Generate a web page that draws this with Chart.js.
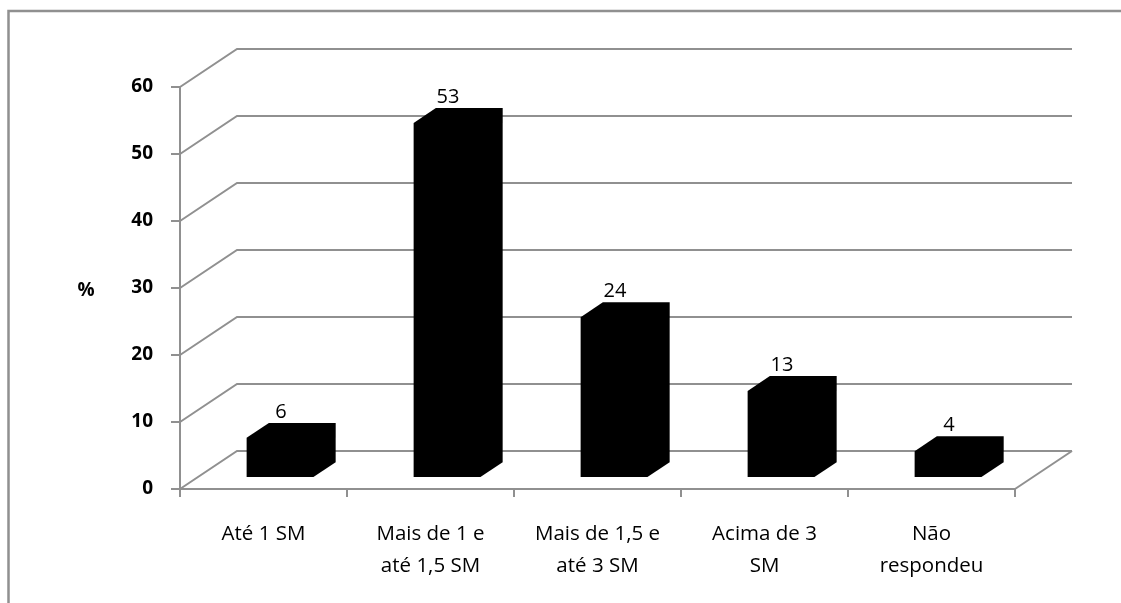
<!DOCTYPE html>
<html>
<head>
<meta charset="utf-8">
<script src="https://cdn.jsdelivr.net/npm/chart.js@4/dist/chart.umd.min.js"></script>
<style>
  html, body { margin: 0; padding: 0; background: #fff; }
  #wrap { position: relative; width: 1121px; height: 603px; }
</style>
</head>
<body>
<div id="wrap"><canvas id="c" width="1121" height="603"></canvas></div>
<script>
// Income bands (in minimum wages) and share of respondents, %
const categories = [
  ['Até 1 SM'],
  ['Mais de 1 e', 'até 1,5 SM'],
  ['Mais de 1,5 e', 'até 3 SM'],
  ['Acima de 3', 'SM'],
  ['Não', 'respondeu']
];
const percentages = [6, 53, 24, 13, 4];
const yTicks = [0, 10, 20, 30, 40, 50, 60];
const yUnit = '%';

// Pseudo-3D geometry: offset of the back wall from the front plane,
// and the depth fractions at which the columns' front and back faces sit.
const WALL_DX = 57, WALL_DY = -38;
const BAR_FRONT = 0.29, BAR_BACK = 0.68;
const LINE = '#909090';
const FONT = "'Open Sans', 'DejaVu Sans', sans-serif";

const depth3d = {
  id: 'depth3d',
  beforeDraw(chart) {
    const ctx = chart.ctx;
    ctx.save();
    ctx.strokeStyle = LINE;
    ctx.lineWidth = 2.5;
    ctx.beginPath();
    ctx.moveTo(8.5, 640);
    ctx.lineTo(8.5, 11);
    ctx.lineTo(1140, 11);
    ctx.stroke();
    ctx.restore();
  },
  beforeDatasetsDraw(chart) {
    const { ctx, chartArea: a, scales: { y } } = chart;
    ctx.save();
    ctx.strokeStyle = LINE;
    ctx.lineWidth = 2;
    // side wall diagonals and back wall gridlines
    yTicks.forEach(v => {
      const py = y.getPixelForValue(v);
      ctx.beginPath();
      ctx.moveTo(a.left, py);
      ctx.lineTo(a.left + WALL_DX, py + WALL_DY);
      ctx.lineTo(a.right + WALL_DX, py + WALL_DY);
      ctx.stroke();
    });
    // right edge of the floor
    ctx.beginPath();
    ctx.moveTo(a.right, a.bottom);
    ctx.lineTo(a.right + WALL_DX, a.bottom + WALL_DY);
    ctx.stroke();
    // axis unit
    ctx.fillStyle = '#000';
    ctx.font = 'bold 19px ' + FONT;
    ctx.textAlign = 'center';
    ctx.textBaseline = 'middle';
    ctx.fillText(yUnit, 86, y.getPixelForValue(30) + 3);
    ctx.restore();
  },
  afterDatasetsDraw(chart) {
    const ctx = chart.ctx;
    const meta = chart.getDatasetMeta(0);
    const fx = WALL_DX * BAR_FRONT, fy = WALL_DY * BAR_FRONT;
    const bx = WALL_DX * (BAR_BACK - BAR_FRONT), by = WALL_DY * (BAR_BACK - BAR_FRONT);
    ctx.save();
    meta.data.forEach((el, i) => {
      const hw = el.width / 2;
      const x0 = el.x - hw + fx, x1 = el.x + hw + fx;
      const yt = el.y + fy, yb = el.base + fy;
      ctx.fillStyle = '#000';
      ctx.beginPath();
      ctx.moveTo(x0, yb);
      ctx.lineTo(x0, yt);
      ctx.lineTo(x0 + bx, yt + by);
      ctx.lineTo(x1 + bx, yt + by);
      ctx.lineTo(x1 + bx, yb + by);
      ctx.lineTo(x1, yb);
      ctx.closePath();
      ctx.fill();
      // value label above the column top
      ctx.font = '20px ' + FONT;
      ctx.textAlign = 'center';
      ctx.textBaseline = 'middle';
      ctx.fillText(String(percentages[i]), el.x + fx + 1, yt + by - 11);
    });
    ctx.restore();
  }
};

new Chart(document.getElementById('c'), {
  type: 'bar',
  data: {
    labels: categories,
    datasets: [{
      data: percentages,
      backgroundColor: 'rgba(0,0,0,0)',
      borderWidth: 0,
      categoryPercentage: 1,
      barPercentage: 0.4
    }]
  },
  options: {
    responsive: false,
    animation: false,
    events: [],
    layout: { padding: { left: 80, right: 106, top: 87, bottom: 0 } },
    plugins: { legend: { display: false }, tooltip: { enabled: false } },
    scales: {
      x: {
        afterFit: s => { s.height = 114; },
        border: { display: true, color: LINE, width: 2 },
        grid: { display: true, drawOnChartArea: false, drawTicks: true, tickLength: 8, color: LINE, lineWidth: 2, offset: true },
        ticks: { color: '#000', font: { family: FONT, size: 20.5, lineHeight: 1.55 }, padding: 21, maxRotation: 0, autoSkip: false }
      },
      y: {
        min: 0, max: 60,
        afterFit: s => { s.width = 100; },
        afterBuildTicks: s => { s.ticks = yTicks.map(v => ({ value: v })); },
        border: { display: true, color: LINE, width: 2 },
        grid: { display: true, drawOnChartArea: false, drawTicks: true, tickLength: 9, color: LINE, lineWidth: 2 },
        ticks: { color: '#000', font: { family: FONT, size: 19, weight: 'bold' }, padding: 18 }
      }
    }
  },
  plugins: [depth3d]
});
</script>
</body>
</html>
